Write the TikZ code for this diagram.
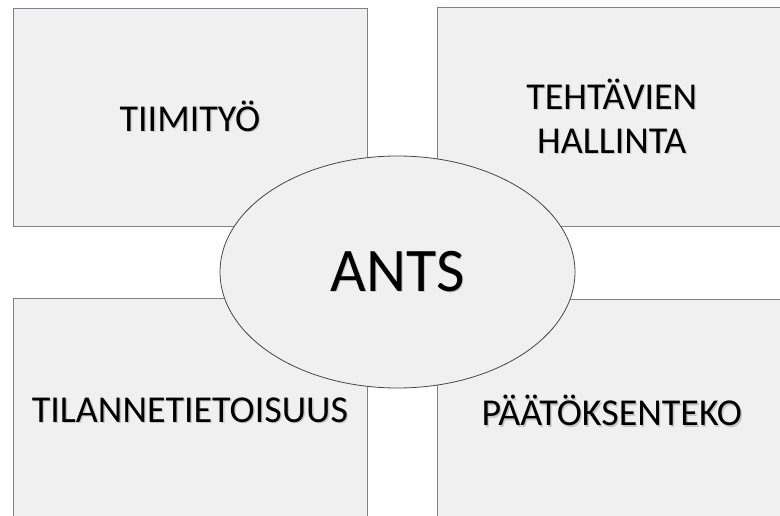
\documentclass[tikz,border=0pt]{standalone}
\usepackage{fontspec}
\setmainfont{Carlito}
\usetikzlibrary{positioning,shapes.geometric}

\definecolor{panelfill}{RGB}{240,240,240}
\definecolor{panelline}{RGB}{120,130,148}
\definecolor{hubline}{RGB}{70,70,70}

% soft text shadow under each line
\newcommand{\shd}[1]{\makebox[0pt][l]{\hspace{1.3pt}\raisebox{-1.3pt}{\textcolor{black!22}{#1}}}#1}

\begin{document}
\begin{tikzpicture}[
  x=1pt, y=-1pt,
  panel/.style={rectangle, draw=panelline, fill=panelfill, line width=0.8pt, inner sep=0pt, align=center, font=\fontsize{38}{44}\selectfont},
  hub/.style={ellipse, draw=hubline, fill=panelfill, line width=0.8pt, inner sep=0pt, minimum width=355pt, minimum height=232pt, font=\fontsize{62}{70}\selectfont}
]
  \useasboundingbox (0,0) rectangle (780,516);
  \clip (0,0) rectangle (780,516);

  \node (tiimi) [panel, minimum width=354pt, minimum height=218pt] at (190,117) {\shd{TIIMITYÖ}};
  \node (tehtavat) [panel, minimum width=348pt, minimum height=219pt, right=70pt of tiimi] {\shd{TEHTÄVIEN}\\\shd{HALLINTA}};
  \node (tilanne) [panel, minimum width=354pt, minimum height=224pt, below=72pt of tiimi] {\shd{TILANNETIETOISUUS}};
  \node (paatos) [panel, minimum width=348pt, minimum height=224pt, below=72pt of tehtavat] {\shd{PÄÄTÖKSENTEKO}};

  \node (ants) [hub] at (397.5,272) {\shd{ANTS}};
\end{tikzpicture}
\end{document}
